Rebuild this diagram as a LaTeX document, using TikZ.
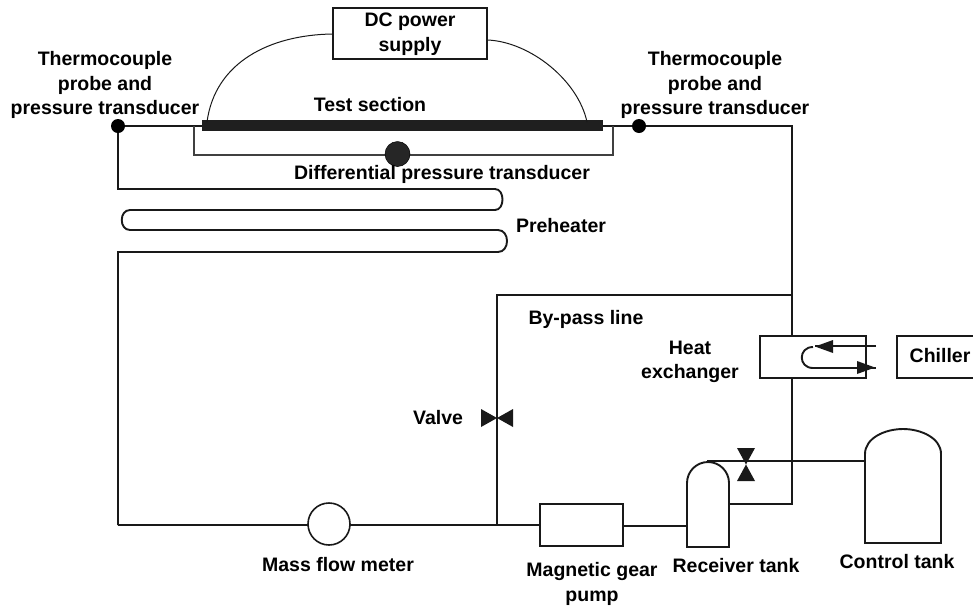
\documentclass[tikz,border=0pt]{standalone}
\usepackage{fontspec}
\setmainfont{Liberation Sans}
\usetikzlibrary{arrows.meta}
\tikzset{
  pipe/.style={draw=black!90,line width=1.9pt},
  thin wire/.style={draw=black!90,line width=1pt},
  bracket/.style={draw=black!75,line width=1.4pt},
  box/.style={draw=black!90,line width=1.6pt,fill=white,inner sep=0pt},
  lab/.style={font=\fontsize{19.5}{24.5}\selectfont\bfseries,align=center,inner sep=0pt,text=black},
  dot/.style={circle,fill=black,draw=none,minimum size=14pt,inner sep=0pt},
  vlv/.style={fill=black!90,draw=none}
}
\begin{document}
\begin{tikzpicture}[x=1pt,y=-1pt]
\useasboundingbox (0,0) rectangle (973,606);
% coordinates
\coordinate (byR) at (792,295);
\coordinate (byL) at (497,295);
\coordinate (byB) at (497,525);
\coordinate (ph1) at (118,189);
\coordinate (ph2) at (118,252);
\coordinate (loopB) at (118,525);
\coordinate (brL) at (194,126);
\coordinate (brR) at (613,126);
\coordinate (rtI) at (687,526);
\coordinate (rtO) at (729,504);
\coordinate (rtT) at (707,461);
\coordinate (ctI) at (864,461);
\coordinate (cR) at (792,504);
\coordinate (hxT) at (792,336);
\coordinate (hxB) at (792,378);
\coordinate (cin) at (876,346);
\coordinate (cc1) at (813,347);
\coordinate (cc2) at (813,368);
\coordinate (cout) at (876,368);
% main loop pipes
\node[dot] (tcL) at (118,126) {};
\node[dot] (tcR) at (639,126) {};
\draw[pipe] (tcL) -- (ph1) -- (495,189)
  .. controls (505,189) and (505,210) .. (495,210) -- (130,210)
  .. controls (119,210) and (119,230) .. (130,230) -- (498,230)
  .. controls (510,230) and (510,252) .. (498,252) -- (ph2) -- (loopB);
\draw[pipe] (tcR) -| (hxT);
\draw[pipe] (byR) -- (byL) -- (byB);
\draw[pipe] (hxB) -- (cR) -- (rtO);
\draw[pipe] (loopB) -- (byB);
% pump line
\node[box,minimum width=83pt,minimum height=42pt] (pump) at (581.5,525) {};
\draw[pipe] (byB) -- (pump.west);
\draw[pipe,line width=1.4pt] (pump.east |- 0,526) -- (rtI);
\node[circle,box,minimum size=42pt] (fm) at (329,524) {};
% test section
\draw[pipe] (tcL) -- (203,126);
\draw[pipe] (603,126) -- (tcR);
\draw[bracket] (brL) -- (194,155) -- (613,155) -- (brR);
\node[fill=black!88,minimum width=401pt,minimum height=11pt,inner sep=0pt] (ts) at (402.5,125.5) {};
\node[circle,fill=black!85,draw=black,line width=.5pt,minimum size=25pt,inner sep=0pt] (dp) at (397.5,154) {};
% DC supply
\node[box,minimum width=154pt,minimum height=51pt] (dc) at (410,33.5) {};
\draw[thin wire] (dc.west |- 0,34) .. controls (270,35) and (215,62) .. (207,122);
\draw[thin wire] (dc.east |- 0,40) .. controls (530,42) and (578,80) .. (587,122);
% heat exchanger
\node[box,fill=none,minimum width=106pt,minimum height=42pt] (hx) at (813,357) {};
\draw[box,fill=none] (973,336) -| (897,378) -- (973,378);
\draw[pipe] (cin) -- (815,346);
\fill[black!90] (815,346.5) -- (833,340) -- (833,353) -- cycle;
\draw[pipe] (cc1) .. controls (798,347) and (798,368) .. (cc2) -- (858,368);
\draw[pipe] (858,368) -- (cout);
\fill[black!90] (875,367.5) -- (857,361) -- (857,374) -- cycle;
% valves
\fill[vlv] (481,409) -- (513,427) -- (513,409) -- (481,427) -- cycle;
\fill[vlv] (737,448) -- (755,448) -- (737,481) -- (755,481) -- cycle;
% tanks
\draw[pipe,fill=white] (687,547) -- (687,483) arc[start angle=180,end angle=360,radius=21] -- (729,547) -- cycle;
\draw[pipe] (rtT) -- (ctI);
\draw[pipe,fill=white] (865,543) -- (865,454) .. controls (865,438) and (885,429) .. (903,429)
  .. controls (921,429) and (941,438) .. (941,454) -- (941,543) -- cycle;
% labels
\node[lab] (l1) at (105,85) {Thermocouple\\probe and\\pressure transducer};
\node[lab] (l2) at (715,85) {Thermocouple\\probe and\\pressure transducer};
\node[lab] (l3) at (410,34) {DC power\\supply};
\node[lab] (l4) at (370,105) {Test section};
\node[lab] (l5) at (442,174) {Differential pressure transducer};
\node[lab] (l6) at (561,226) {Preheater};
\node[lab] (l7) at (586,319) {By-pass line};
\node[lab] (l8) at (690,362) {Heat\\exchanger};
\node[lab] (l9) at (438,418) {Valve};
\node[lab] (l10) at (940,356) {Chiller};
\node[lab] (l11) at (338,565) {Mass flow meter};
\node[lab] (l12) at (592,584) {Magnetic gear\\pump};
\node[lab] (l13) at (736,566) {Receiver tank};
\node[lab] (l14) at (897,562) {Control tank};
\end{tikzpicture}
\end{document}
